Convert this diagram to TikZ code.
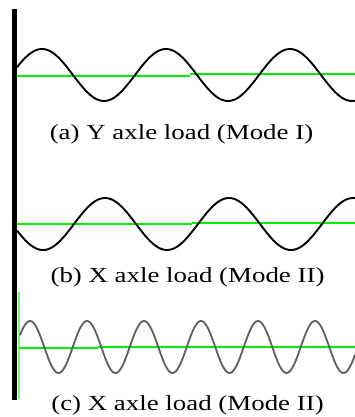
\documentclass[tikz,border=0pt]{standalone}
\usepackage{fontspec}
\setmainfont{Liberation Serif}
\definecolor{brightgreen}{RGB}{0,238,0}
\definecolor{lightgreen}{RGB}{130,240,130}
\definecolor{wavegray}{RGB}{95,95,95}
\tikzset{
  wave/.style={line width=1.9pt, black, line join=round},
  wavec/.style={line width=1.8pt, wavegray, line join=round},
  axisline/.style={line width=2pt, brightgreen},
  caption/.style={anchor=base, inner sep=0pt, font=\fontsize{21.5}{26}\selectfont}
}
\begin{document}
\begin{tikzpicture}[x=1pt, y=-1pt]
\useasboundingbox (0,0) rectangle (355,417);
\fill[white] (0,0) rectangle (355,417);
% black wall
\fill[black] (11.5,9) rectangle (17,400);
% thin light green vertical line
\draw[lightgreen, line width=1.5pt] (19.2,292) -- (19.2,399);
% (a)
\draw[axisline] (17,75.7) -- (190,75.7);
\draw[axisline] (190,74.2) -- (355,74.2);
\draw[wave] plot[domain=17:355, samples=240] (\x, {75 - 26*cos(2.90323*(\x-42))});
\node[caption] (capa) at (181.5,139) {\scalebox{1.25}[1]{(a) Y axle load (Mode I)}};
% (b)
\draw[axisline] (17,224.3) -- (192,224.3);
\draw[axisline] (192,222.8) -- (355,222.8);
\draw[wave] plot[domain=17:355, samples=240] (\x, {224 + 26*cos(2.90323*(\x-43))});
\node[caption] (capb) at (187.5,282) {\scalebox{1.25}[1]{(b) X axle load (Mode II)}};
% (c)
\draw[axisline] (19,347.7) -- (98,347.7);
\draw[axisline] (98,346.7) -- (355,346.7);
\draw[wavec] plot[domain=20:355, samples=300] (\x, {347 - 26*cos(6.31579*(\x-30))});
\node[caption] (capc) at (187.5,410) {\scalebox{1.25}[1]{(c) X axle load (Mode II)}};
\end{tikzpicture}
\end{document}
